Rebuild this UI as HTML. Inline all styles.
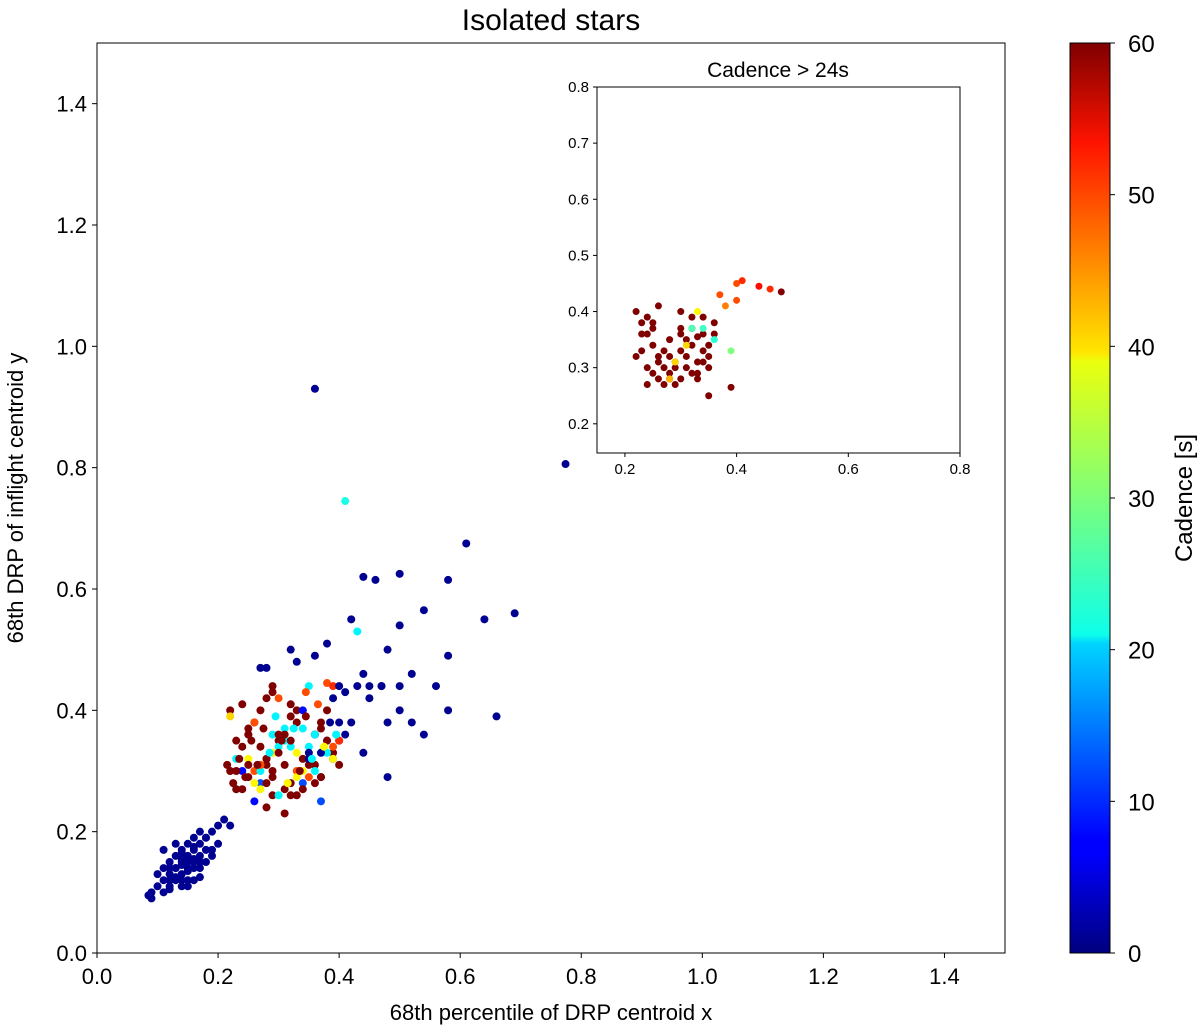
<!DOCTYPE html>
<html><head><meta charset="utf-8"><style>
body{margin:0;background:#fff;}
svg text{font-family:"Liberation Sans","DejaVu Sans",sans-serif;fill:#000;}
</style></head><body>
<svg id="chart" width="1200" height="1030" xmlns="http://www.w3.org/2000/svg">
<defs>
<linearGradient id="jet" x1="0" y1="1" x2="0" y2="0">
<stop offset="0" stop-color="#00007f"/><stop offset="0.11" stop-color="#0000ff"/><stop offset="0.125" stop-color="#0000ff"/>
<stop offset="0.34" stop-color="#00d4ff"/><stop offset="0.35" stop-color="#0dffea"/><stop offset="0.5" stop-color="#7dff7a"/>
<stop offset="0.65" stop-color="#eaff0d"/><stop offset="0.66" stop-color="#ffe600"/><stop offset="0.89" stop-color="#ff1300"/><stop offset="1" stop-color="#7f0000"/>
</linearGradient>
</defs>
<g id="main"></g>
<g id="inset"></g>
<g id="cbar"></g>
</svg>
<script>
// outlier points (x, y, cadence)
const outX=[0.36,0.41,0.61,0.44,0.46,0.50,0.58,0.69,0.64,0.54,
0.42,0.50,0.43,0.774,0.38,0.36,0.33,0.48,0.58,0.52,
0.56,0.44,0.47,0.50,0.45,0.50,0.58,0.66,0.54,0.48,
0.52,0.42,0.40,0.44,0.48,0.28,0.27,0.32,0.38,0.39,
0.40,0.41,0.43,0.45,0.47,0.39,0.40,0.41,0.39,0.37];
const outY=[0.93,0.745,0.675,0.62,0.615,0.625,0.615,0.56,0.55,0.565,
0.55,0.54,0.53,0.806,0.51,0.49,0.48,0.50,0.49,0.46,
0.44,0.46,0.44,0.44,0.42,0.40,0.40,0.39,0.36,0.38,
0.38,0.38,0.35,0.33,0.29,0.47,0.47,0.50,0.445,0.44,
0.44,0.43,0.44,0.44,0.44,0.42,0.38,0.36,0.32,0.29];
const outC=[1,24,1,1,1,1,1,1,1,1,
1,1,22,1,1,1,1,1,1,1,
1,1,1,1,1,1,1,1,1,1,
1,1,1,1,1,1,1,1,48,50,
1,1,1,1,1,1,1,1,1,1];
// low-offset blue cluster
const blueX=[0.09,0.10,0.11,0.12,0.13,0.14,0.15,0.16,0.17,0.18,
0.19,0.20,0.12,0.13,0.14,0.15,0.16,0.17,0.18,0.11,
0.12,0.13,0.14,0.15,0.16,0.17,0.19,0.10,0.12,0.14,
0.16,0.18,0.20,0.09,0.085,0.11,0.13,0.15,0.17,0.21,
0.22,0.13,0.15,0.14,0.16,0.12,0.17,0.19,0.14,0.15,
0.13,0.14,0.16,0.15,0.12,0.18,0.17,0.11,0.14,0.16];
const blueY=[0.09,0.11,0.12,0.13,0.14,0.15,0.16,0.17,0.18,0.19,
0.20,0.21,0.15,0.16,0.17,0.18,0.19,0.20,0.15,0.10,
0.11,0.12,0.13,0.14,0.15,0.16,0.17,0.13,0.14,0.11,
0.12,0.19,0.18,0.10,0.095,0.17,0.18,0.12,0.14,0.22,
0.21,0.125,0.135,0.165,0.155,0.105,0.125,0.16,0.145,0.15,
0.14,0.12,0.14,0.11,0.12,0.17,0.15,0.14,0.155,0.175];
const blueC=[1,1,1,1,1,1,1,1,1,1,1,1,1,1,1,1,1,1,1,1,1,1,1,1,1,1,1,1,1,1,
1,1,1,1,1,1,1,1,1,1,1,1,1,1,1,1,1,1,1,1,1,1,1,1,1,1,1,1,1,1];
// central mixed-cadence cluster
const midX=[0.22,0.23,0.24,0.25,0.26,0.27,0.28,0.29,0.30,0.31,
0.32,0.33,0.34,0.35,0.36,0.37,0.38,0.39,0.23,0.25,
0.27,0.29,0.31,0.33,0.35,0.37,0.22,0.24,0.26,0.28,
0.30,0.32,0.34,0.36,0.38,0.23,0.25,0.27,0.29,0.31,
0.33,0.35,0.37,0.24,0.26,0.28,0.30,0.32,0.34,0.36,
0.25,0.27,0.29,0.31,0.33,0.35,0.37,0.26,0.28,0.30,
0.32,0.34,0.36,0.38,0.23,0.27,0.31,0.35,0.39,0.25,
0.29,0.33,0.37,0.24,0.28,0.32,0.36,0.30,0.34,0.26,
0.33,0.38,0.40,0.31,0.29,0.35,0.27,0.22,0.25,0.30,
0.34,0.37,0.28,0.32,0.36,0.39,0.40,0.27,0.23,0.29,
0.245,0.265,0.285,0.305,0.325,0.345,0.365,0.255,0.275,0.295,
0.315,0.335,0.355,0.375,0.235,0.225,0.385,0.395,0.215,0.345];
const midY=[0.30,0.32,0.34,0.36,0.38,0.40,0.31,0.33,0.35,0.37,
0.39,0.30,0.32,0.34,0.36,0.38,0.35,0.33,0.27,0.29,
0.28,0.26,0.27,0.29,0.31,0.33,0.40,0.41,0.30,0.28,
0.34,0.28,0.30,0.36,0.33,0.35,0.37,0.31,0.29,0.35,
0.40,0.32,0.25,0.27,0.25,0.24,0.26,0.26,0.28,0.31,
0.32,0.34,0.36,0.36,0.38,0.33,0.37,0.38,0.42,0.42,
0.41,0.40,0.36,0.35,0.27,0.30,0.31,0.29,0.32,0.31,
0.30,0.33,0.33,0.30,0.32,0.34,0.28,0.36,0.37,0.28,
0.26,0.40,0.35,0.23,0.44,0.44,0.31,0.39,0.36,0.33,
0.27,0.29,0.32,0.35,0.30,0.34,0.31,0.27,0.30,0.43,
0.29,0.31,0.33,0.35,0.37,0.39,0.41,0.35,0.37,0.39,
0.28,0.30,0.32,0.34,0.32,0.28,0.38,0.36,0.31,0.43];
const midC=[60,22,60,60,60,60,60,38,60,22,
60,48,60,22,8,60,1,60,20,60,
12,60,60,38,60,22,60,60,48,60,
22,60,38,60,22,60,60,48,60,22,
60,1,12,60,8,60,22,60,12,60,
38,60,22,60,60,1,60,48,60,48,
60,8,22,60,60,22,60,48,38,60,
60,38,1,8,60,22,60,60,22,38,
60,60,50,60,60,22,48,40,60,60,
60,60,60,60,22,48,60,38,60,60,
60,60,22,60,22,60,48,60,60,22,
38,60,22,38,60,60,1,22,60,48];
// inset data
const inX=[0.22,0.23,0.24,0.25,0.26,0.27,0.28,0.29,0.30,0.31,
0.32,0.33,0.34,0.35,0.36,0.23,0.25,0.27,0.29,0.31,
0.33,0.35,0.24,0.26,0.28,0.30,0.32,0.34,0.36,0.22,
0.24,0.26,0.28,0.30,0.32,0.34,0.25,0.27,0.29,0.31,
0.33,0.35,0.24,0.26,0.28,0.30,0.32,0.34,0.37,0.40,
0.41,0.44,0.46,0.48,0.40,0.38,0.35,0.39,0.32,0.34,
0.39,0.36,0.33,0.31,0.29,0.28,0.23,0.25,0.30,0.33];
const inY=[0.40,0.38,0.36,0.34,0.32,0.30,0.28,0.31,0.33,0.35,
0.29,0.31,0.33,0.30,0.36,0.33,0.29,0.27,0.30,0.32,
0.28,0.34,0.39,0.41,0.35,0.37,0.39,0.31,0.38,0.32,
0.30,0.28,0.32,0.28,0.34,0.36,0.37,0.33,0.27,0.30,
0.29,0.32,0.27,0.31,0.29,0.36,0.37,0.39,0.43,0.45,
0.455,0.445,0.44,0.435,0.42,0.41,0.25,0.265,0.37,0.37,
0.33,0.35,0.40,0.34,0.31,0.28,0.36,0.38,0.40,0.355];
const inC=[60,60,60,60,60,60,60,60,60,60,
60,60,60,60,60,60,60,60,60,60,
60,60,60,60,60,60,60,60,60,60,
60,60,60,60,60,60,60,60,60,60,
60,60,60,60,60,60,60,60,48,48,
50,52,50,60,48,45,60,60,27,26,
30,25,38,40,40,42,60,60,60,60];
const xTicks=["0.0","0.2","0.4","0.6","0.8","1.0","1.2","1.4"];
const yTicks=["0.0","0.2","0.4","0.6","0.8","1.0","1.2","1.4"];
const inTicksX=["0.2","0.4","0.6","0.8"];
const inTicksY=["0.2","0.3","0.4","0.5","0.6","0.7","0.8"];
const cbTicks=["0","10","20","30","40","50","60"];

const NS="http://www.w3.org/2000/svg";
function mk(p,t,a,txt){const e=document.createElementNS(NS,t);for(const k in a)e.setAttribute(k,a[k]);if(txt!==undefined)e.textContent=txt;p.appendChild(e);return e;}
function jet(v){v=Math.max(0,Math.min(1,v));
 const f=(x)=>Math.max(0,Math.min(1,x));
 const r=f(1.5-Math.abs(4*v-3)),g=f(1.5-Math.abs(4*v-2)),b=f(1.5-Math.abs(4*v-1));
 return `rgb(${Math.round(r*255)},${Math.round(g*255)},${Math.round(b*255)})`;}
const M={l:97,r:1005,t:43,b:953,x0:0,x1:1.5,y0:0,y1:1.5};
const mx=v=>M.l+(v-M.x0)/(M.x1-M.x0)*(M.r-M.l), my=v=>M.b-(v-M.y0)/(M.y1-M.y0)*(M.b-M.t);
const g=document.getElementById('main');
function drawSet(X,Y,Cc){
 const n=Math.min(X.length,Y.length,Cc.length);
 for(let i=0;i<n;i++){
  const c=mk(g,'circle',{cx:mx(X[i]),cy:my(Y[i]),r:4,fill:jet(Cc[i]/60)});
  
  
 }
}
drawSet(blueX,blueY,blueC);
drawSet(outX,outY,outC);
drawSet(midX,midY,midC);
const fr=mk(g,'rect',{x:M.l,y:M.t,width:M.r-M.l,height:M.b-M.t,fill:'none',stroke:'#000','stroke-width':1});


xTicks.forEach(t=>{const x=mx(+t);mk(g,'line',{x1:x,x2:x,y1:M.b,y2:M.b+5,stroke:'#000'});
 const e=mk(g,'text',{x:x,y:M.b+31,'text-anchor':'middle','font-size':22},t);
 
 });
yTicks.forEach(t=>{const y=my(+t);mk(g,'line',{x1:M.l-5,x2:M.l,y1:y,y2:y,stroke:'#000'});
 const e=mk(g,'text',{x:M.l-10,y:y+8,'text-anchor':'end','font-size':22},t);
 
 });
let e=mk(g,'text',{x:551,y:1020,'text-anchor':'middle','font-size':22},'68th percentile of DRP centroid x');


e=mk(g,'text',{x:0,y:0,'text-anchor':'middle','font-size':22,transform:'translate(23,498) rotate(-90)'},'68th DRP of inflight centroid y');


e=mk(g,'text',{x:551,y:30,'text-anchor':'middle','font-size':30},'Isolated stars');


// inset
const I={l:597,r:960,t:87,b:453,x0:0.15,x1:0.8,y0:0.148,y1:0.8};
const ix=v=>I.l+(v-I.x0)/(I.x1-I.x0)*(I.r-I.l), iy=v=>I.b-(v-I.y0)/(I.y1-I.y0)*(I.b-I.t);
const gi=document.getElementById('inset');
mk(gi,'rect',{x:I.l,y:I.t,width:I.r-I.l,height:I.b-I.t,fill:'#fff'});
for(let i=0;i<Math.min(inX.length,inY.length,inC.length);i++){
 const c=mk(gi,'circle',{cx:ix(inX[i]),cy:iy(inY[i]),r:3.5,fill:jet(inC[i]/60)});
 
 
}
mk(gi,'rect',{x:I.l,y:I.t,width:I.r-I.l,height:I.b-I.t,fill:'none',stroke:'#000'});
inTicksX.forEach(t=>{const x=ix(+t);mk(gi,'line',{x1:x,x2:x,y1:I.b,y2:I.b+4,stroke:'#000'});
 const e=mk(gi,'text',{x:x,y:I.b+21,'text-anchor':'middle','font-size':15},t);
 
 });
inTicksY.forEach(t=>{const y=iy(+t);mk(gi,'line',{x1:I.l-4,x2:I.l,y1:y,y2:y,stroke:'#000'});
 const e=mk(gi,'text',{x:I.l-8,y:y+5,'text-anchor':'end','font-size':15},t);
 
 });
e=mk(gi,'text',{x:778,y:77,'text-anchor':'middle','font-size':21},'Cadence > 24s');


// colorbar
const C={l:1070,r:1110,t:43,b:953};
const gc=document.getElementById('cbar');
mk(gc,'rect',{x:C.l,y:C.t,width:C.r-C.l,height:C.b-C.t,fill:'url(#jet)',stroke:'#000'});
cbTicks.forEach(t=>{const y=C.b-(+t)/60*(C.b-C.t);mk(gc,'line',{x1:C.r,x2:C.r+5,y1:y,y2:y,stroke:'#000'});
 const e=mk(gc,'text',{x:C.r+18,y:y+9,'font-size':24},t);
 
 });
e=mk(gc,'text',{x:0,y:0,'text-anchor':'middle','font-size':24,transform:'translate(1192,498) rotate(-90)'},'Cadence [s]');


</script>
</body></html>
